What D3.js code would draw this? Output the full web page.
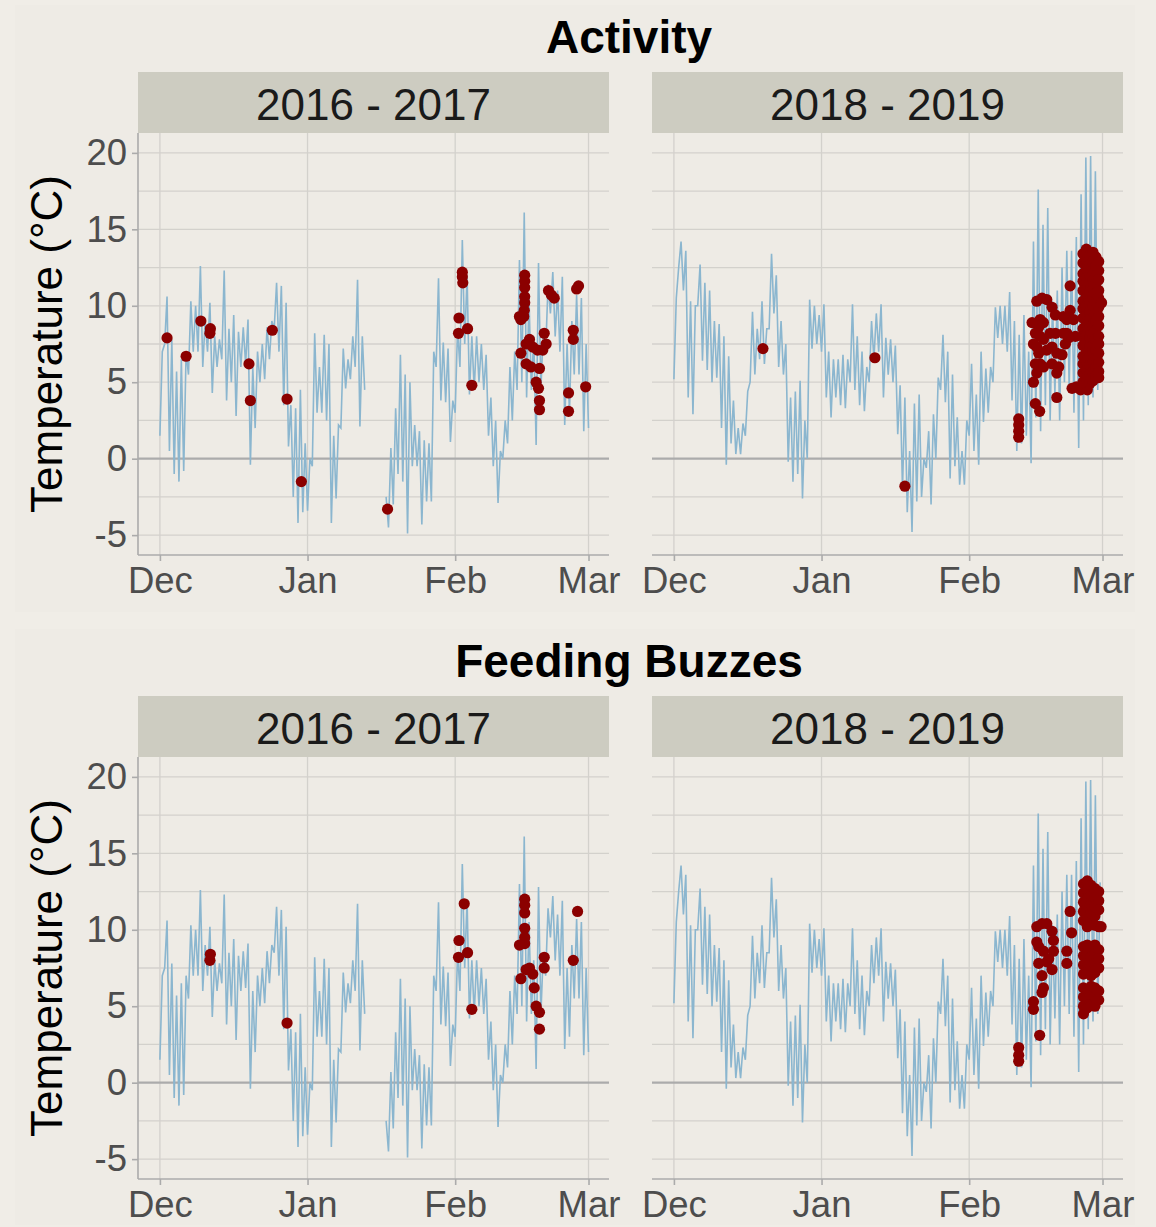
<!DOCTYPE html>
<html>
<head>
<meta charset="utf-8">
<script src="https://cdn.jsdelivr.net/npm/d3@7"></script>
<style>
  body { margin: 0; background: #F0EDE7; }
  svg { display: block; }
</style>
</head>
<body>
<svg id="chart" width="1156" height="1227"></svg>
<script>
// ---- data -------------------------------------------------------------
const seasons = ["2016 - 2017", "2018 - 2019"];
const sectionTitles = ["Activity", "Feeding Buzzes"];
const monthTicks = [0, 31, 62, 90];            // days since 1 Dec
const monthLabels = ["Dec", "Jan", "Feb", "Mar"];
const yTicks = [-5, 0, 5, 10, 15, 20];
const yMinor = [-2.5, 2.5, 7.5, 12.5, 17.5];

// Air temperature (°C), half-day steps starting 1 Dec (night low, day high); null = no logger data
const temp1617 = [
  1.5, 7.0,  7.5, 10.6,  0.5, 7.8,  -1.0, 5.7,  -1.5, 6.5,  -0.8, 7.0,  5.5, 10.3,  7.0, 10.0,
  7.0, 12.6,  6.0, 9.0,  7.0, 10.2,  4.3, 8.0,  6.0, 7.8,  6.5, 12.3,  3.8, 8.5,  5.0, 9.4,
  2.8, 8.3,  6.0, 8.6,  6.2, 9.1,  -0.4, 6.0,  2.0, 7.0,  5.0, 7.5,  5.2, 8.6,  6.5, 9.0,
  8.5, 11.5,  7.0, 11.3,  3.5, 10.2,  0.8, 3.5,  -2.5, 3.3,  -4.2, 4.5,  -3.5, 1.0,  -3.4, 0.0,
  -0.5, 8.2,  3.0, 6.0,  3.0, 8.1,  2.5, 7.5,  -4.2, 1.5,  -2.6, 2.2,  2.0, 7.2,  4.6, 6.5,
  5.2, 8.0,  6.0, 11.7,  2.1, 8.0,  4.5, null,  null, null,  null, null,  null, null,  null, -2.5,
  -4.5, 0.7,  -3.0, 3.3,  -1.0, 6.8,  -1.5, 5.5,  -4.9, 5.0,  -0.5, 2.2,  -0.5, 1.8,  -4.3, 1.2,
  -2.8, 1.0,  -2.8, 7.0,  6.0, 11.8,  3.8, 7.6,  3.7, 7.2,  1.1, 3.8,  3.0, 8.5,  6.0, 14.3,
  7.5, 12.0,  4.2, 8.0,  4.5, 8.0,  5.0, 7.5,  4.5, 6.8,  1.5, 4.0,  -0.5, 2.5,  -2.9, 0.5,
  0.0, 2.5,  1.0, 6.0,  2.5, 7.0,  4.5, 13.0,  5.0, 16.1,  4.0, 10.5,  4.5, 8.0,  0.9, 12.8,
  4.5, 8.5,  7.0, 11.4,  9.5, 12.2,  8.0, 11.0,  7.0, 11.9,  2.2, 7.5,  3.0, 9.0,  5.5, 10.7,
  5.5, 10.5,  1.8, 7.5,  2.0
];
const temp1819 = [
  5.2, 10.5,  12.5, 14.2,  11.0, 13.6,  4.0, 10.3,  2.9, 10.0,  10.0, 12.7,  6.4, 11.5,  5.8, 11.0,
  5.0, 9.0,  5.3, 8.8,  2.0, 8.0,  -0.4, 6.7,  1.0, 3.8,  0.3, 2.0,  0.3, 2.3,  1.5, 4.4,
  5.0, 9.6,  5.5, 8.5,  6.5, 10.3,  6.2, 8.5,  8.5, 13.4,  9.5, 12.0,  6.0, 9.0,  5.5, 7.5,
  -0.2, 4.0,  -1.5, 4.4,  -1.0, 5.1,  -2.6, 2.5,  0.0, 10.4,  7.2, 10.0,  7.5, 9.4,  7.0, 10.1,
  4.0, 7.0,  2.7, 6.5,  4.0, 6.5,  3.5, 6.8,  3.3, 6.5,  5.0, 10.1,  4.5, 8.0,  3.5, 7.0,
  3.1, 6.0,  5.0, 9.0,  6.5, 9.5,  7.0, 10.1,  4.0, 7.9,  5.5, 7.8,  5.0, 7.4,  1.6, 4.8,
  -2.0, 4.0,  -3.5, 0.5,  -4.8, 3.6,  -2.8, 4.2,  -2.5, 0.0,  -0.6, 1.8,  -3.0, 2.9,  0.0, 5.3,
  4.5, 8.1,  3.7, 7.0,  -1.3, 5.5,  -0.5, 2.7,  -1.7, 0.5,  -1.7, 2.5,  1.5, 6.2,  0.5, 4.2,
  -0.4, 7.0,  2.4, 5.9,  3.0, 6.0,  5.0, 9.9,  7.9, 10.0,  7.5, 10.0,  7.0, 10.9,  3.8, 9.0,
  0.5, 8.1,  1.0, 9.4,  1.5, 7.0,  -0.3, 14.2,  2.7, 17.6,  1.8, 15.3,  3.5, 16.4,  2.5, 10.3,
  4.2, 11.0,  2.5, 12.5,  5.0, 13.6,  4.5, 13.6,  3.0, 14.5,  0.7, 17.3,  2.5, 19.7,  3.5, 19.8,
  4.0, 18.8,  4.5, 13.1
];

// Detected bat passes: [day since 1 Dec, temperature °C]
const activity1617 = [
  [1.5, 7.9], [5.5, 6.7], [8.6, 9.0], [10.5, 8.2], [10.6, 8.5], [18.7, 6.2], [19.0, 3.8],
  [23.6, 8.4], [26.7, 3.9], [29.7, -1.5], [47.8, -3.3],
  [63.5, 12.2], [63.5, 11.9], [63.6, 11.5], [62.8, 9.2], [62.7, 8.2], [64.6, 8.5], [65.5, 4.8],
  [76.6, 12.0], [76.6, 11.6], [76.6, 11.2], [76.6, 10.6], [76.6, 10.2], [76.5, 9.7], [76.4, 9.3],
  [75.8, 9.1], [75.5, 9.3],
  [75.8, 6.9], [76.9, 7.5], [78.3, 7.3], [79.3, 7.1], [80.7, 8.2], [81.1, 7.5], [80.4, 7.1],
  [77.9, 6.0], [79.7, 5.9], [76.9, 6.2], [77.6, 7.8],
  [79.0, 5.0], [79.5, 4.6], [79.7, 3.8], [79.7, 3.2],
  [81.6, 11.0], [82.2, 10.7], [82.8, 10.5],
  [86.8, 8.4], [86.8, 7.8], [87.5, 11.1], [87.9, 11.3],
  [85.8, 4.3], [85.8, 3.1], [89.4, 4.7]
];
const feeding1617 = [
  [10.5, 8.0], [10.6, 8.4], [26.7, 3.9],
  [63.9, 11.7], [62.8, 9.3], [62.7, 8.2], [64.6, 8.5], [65.5, 4.8],
  [76.6, 12.0], [76.6, 11.6], [76.6, 11.1], [76.6, 10.1], [76.6, 9.5], [76.6, 9.1], [75.5, 9.0],
  [75.8, 6.8], [76.9, 7.4], [78.3, 7.1], [77.6, 7.5], [78.6, 6.2], [80.7, 8.2], [80.7, 7.5],
  [79.0, 5.0], [79.7, 4.6], [79.7, 3.5],
  [86.8, 8.0], [87.7, 11.2]
];
const activity1819 = [
  [18.7, 7.2], [42.2, 6.6], [48.5, -1.8],
  [72.4, 2.6], [72.4, 2.2], [72.4, 1.8], [72.4, 1.4],
  [76.2, 10.3], [77.3, 10.5], [78.3, 10.4], [79.4, 9.9], [80.1, 9.4], [76.9, 9.1], [75.9, 8.2],
  [75.5, 7.5], [76.6, 6.9], [77.6, 7.8], [79.0, 8.2], [80.1, 8.2], [79.4, 7.3], [80.4, 6.9],
  [80.8, 6.0], [81.5, 6.8], [76.9, 6.2], [76.2, 5.6], [75.5, 5.0], [75.9, 3.6], [76.8, 3.1],
  [80.4, 4.0], [83.2, 11.3], [82.5, 9.1], [82.5, 8.2], [82.2, 7.5], [84.3, 8.0], [76.6, 8.6],
  [78.3, 7.1], [75.9, 6.2], [75.2, 8.9], [77.6, 8.9], [76.9, 8.0], [76.2, 7.3], [77.6, 6.0],
  [79.4, 6.2], [80.4, 5.6], [81.8, 9.3], [83.2, 9.7], [83.9, 9.1], [82.9, 7.9], [81.8, 8.2],
  [83.6, 4.6], [84.5, 4.7], [85.4, 4.5], [86.8, 4.5],
  [85.9, 13.4], [85.9, 12.8], [85.9, 12.1], [85.9, 11.6], [85.9, 11.0], [85.9, 10.3], [85.9, 9.8],
  [85.9, 9.2], [85.9, 8.5], [85.9, 8.0], [85.9, 7.4], [85.9, 6.7], [85.9, 6.2], [85.9, 5.6], [85.9, 5.0],
  [86.6, 13.7], [86.6, 13.0], [86.6, 12.4], [86.6, 11.8], [86.6, 11.1], [86.6, 10.6], [86.6, 10.0],
  [86.6, 9.4], [86.6, 8.8], [86.6, 8.1], [86.6, 7.6], [86.6, 7.0], [86.6, 6.4], [86.6, 5.8], [86.6, 5.2],
  [87.3, 13.3], [87.3, 12.7], [87.3, 12.0], [87.3, 11.5], [87.3, 10.9], [87.3, 10.3], [87.3, 9.6],
  [87.3, 9.1], [87.3, 8.5], [87.3, 7.9], [87.3, 7.3], [87.3, 6.6], [87.3, 6.1], [87.3, 5.5], [87.3, 4.9],
  [88.0, 13.5], [88.0, 12.9], [88.0, 12.3], [88.0, 11.6], [88.0, 11.1], [88.0, 10.5], [88.0, 9.9],
  [88.0, 9.2], [88.0, 8.7], [88.0, 8.1], [88.0, 7.4], [88.0, 6.9], [88.0, 6.3], [88.0, 5.7], [88.0, 5.1],
  [88.6, 13.2], [88.6, 12.6], [88.6, 11.9], [88.6, 11.4], [88.6, 10.8], [88.6, 10.2], [88.6, 9.5],
  [88.6, 9.0], [88.6, 8.4], [88.6, 7.8], [88.6, 7.1], [88.6, 6.6], [88.6, 6.0], [88.6, 5.4],
  [89.2, 12.9], [89.2, 12.3], [89.2, 11.7], [89.2, 11.0], [89.2, 10.5], [89.2, 9.9], [89.2, 9.3],
  [89.2, 8.7], [89.2, 8.0], [89.2, 7.5], [89.2, 6.9], [89.2, 6.3], [89.2, 5.7], [89.2, 5.3],
  [89.8, 10.2]
];
const feeding1819 = [
  [72.4, 2.3], [72.4, 1.8], [72.4, 1.4], [75.5, 5.3], [75.5, 4.8], [76.8, 3.1],
  [76.2, 10.2], [77.3, 10.4], [78.3, 10.4], [79.4, 9.9], [79.7, 9.3], [76.6, 8.9], [77.6, 8.6],
  [79.7, 8.6], [76.6, 7.8], [78.3, 7.9], [79.4, 7.4], [77.3, 7.0], [77.6, 6.2], [77.3, 5.9],
  [76.2, 9.2], [78.7, 8.1],
  [83.2, 11.2], [83.5, 9.8], [82.5, 8.6], [82.5, 7.8],
  [86.0, 13.0], [86.0, 12.4], [86.0, 11.8], [86.0, 11.2], [86.0, 10.6], [86.0, 8.9], [86.0, 8.3],
  [86.0, 7.7], [86.0, 7.1], [86.0, 6.2], [86.0, 5.6], [86.0, 5.0], [86.0, 4.5],
  [86.8, 13.2], [86.8, 12.6], [86.8, 12.0], [86.8, 11.4], [86.8, 10.8], [86.8, 10.2], [86.8, 9.0],
  [86.8, 8.4], [86.8, 7.8], [86.8, 7.2], [86.8, 6.1], [86.8, 5.5], [86.8, 4.9],
  [87.6, 12.9], [87.6, 12.3], [87.6, 11.7], [87.6, 11.1], [87.6, 10.5], [87.6, 8.8], [87.6, 8.2],
  [87.6, 7.6], [87.6, 7.0], [87.6, 6.3], [87.6, 5.7], [87.6, 5.1],
  [88.4, 12.7], [88.4, 12.1], [88.4, 11.5], [88.4, 10.9], [88.4, 10.3], [88.4, 9.0], [88.4, 8.4],
  [88.4, 7.8], [88.4, 7.2], [88.4, 6.2], [88.4, 5.6], [88.4, 5.0],
  [89.2, 12.5], [89.2, 11.9], [89.2, 11.3], [89.2, 10.2], [89.2, 8.7], [89.2, 8.1], [89.2, 7.5],
  [89.2, 6.0], [89.2, 5.4], [89.7, 10.2]
];

// ---- layout -----------------------------------------------------------
const font = "'Liberation Sans', Arial, sans-serif";
const svg = d3.select("#chart");
const panelW = 471, panelH = 422, stripH = 61;
const panelX = [138, 652];
const sectionOffset = [0, 624];
const temps = [temp1617, temp1819];
const pointSets = [[activity1617, activity1819], [feeding1617, feeding1819]];

svg.append("rect").attr("width", 1156).attr("height", 1227).attr("fill", "#F0EDE7");

sectionTitles.forEach((title, s) => {
  const oy = sectionOffset[s];
  const panelTop = 133 + oy;

  svg.append("rect")
    .attr("x", 15).attr("y", 5 + oy).attr("width", 1120).attr("height", s === 0 ? 607 : 596)
    .attr("fill", "#EEEBE5");

  svg.append("text")
    .attr("x", 629).attr("y", 53 + oy)
    .attr("text-anchor", "middle")
    .attr("font-family", font).attr("font-weight", "bold").attr("font-size", 46)
    .attr("fill", "#000").text(title);

  const y = d3.scaleLinear().domain([-6.3, 21.3]).range([panelTop + panelH, panelTop]);

  // y-axis title
  svg.append("text")
    .attr("transform", `translate(61.5,${panelTop + panelH / 2}) rotate(-90)`)
    .attr("text-anchor", "middle")
    .attr("font-family", font).attr("font-size", 44).attr("fill", "#000")
    .text("Temperature (°C)");

  seasons.forEach((season, p) => {
    const x0 = panelX[p];
    const x = d3.scaleLinear().domain([-4.6, 94.3]).range([x0, x0 + panelW]);
    const g = svg.append("g");

    // strip
    g.append("rect").attr("x", x0).attr("y", panelTop - stripH)
      .attr("width", panelW).attr("height", stripH).attr("fill", "#CDCCC1");
    g.append("text").attr("x", x0 + panelW / 2).attr("y", panelTop - 13)
      .attr("text-anchor", "middle")
      .attr("font-family", font).attr("font-size", 44).attr("fill", "#1A1A1A")
      .text(season);

    // grid
    const grid = g.append("g").attr("stroke", "#D3D1CC").attr("stroke-width", 1.3);
    yMinor.concat(yTicks.filter(v => v !== 0)).forEach(v => {
      grid.append("line").attr("x1", x0).attr("x2", x0 + panelW)
        .attr("y1", y(v)).attr("y2", y(v));
    });
    monthTicks.forEach(v => {
      grid.append("line").attr("x1", x(v)).attr("x2", x(v))
        .attr("y1", panelTop).attr("y2", panelTop + panelH);
    });
    g.append("line").attr("x1", x0).attr("x2", x0 + panelW)
      .attr("y1", y(0)).attr("y2", y(0))
      .attr("stroke", "#ABABAB").attr("stroke-width", 2.2);

    // temperature trace
    const series = temps[p].map((t, i) => ({ day: i / 2, t }));
    const line = d3.line()
      .defined(d => d.t !== null)
      .x(d => x(d.day)).y(d => y(d.t));
    g.append("path").datum(series)
      .attr("d", line)
      .attr("fill", "none").attr("stroke", "#8BB6CF")
      .attr("stroke-width", 1.6).attr("stroke-linejoin", "miter");

    // detections
    g.append("g").selectAll("circle")
      .data(pointSets[s][p])
      .join("circle")
      .attr("cx", d => x(d[0])).attr("cy", d => y(d[1]))
      .attr("r", 5.6).attr("fill", "#8B0000");

    // x axis
    const xAxis = d3.axisBottom(x).tickValues(monthTicks)
      .tickFormat((d, i) => monthLabels[i]).tickSize(6).tickPadding(6);
    const gx = g.append("g").attr("transform", `translate(0,${panelTop + panelH})`).call(xAxis);
    gx.select(".domain").attr("d", `M${x0},0H${x0 + panelW}`)
      .attr("stroke", "#ABABAB").attr("stroke-width", 1.6);
    gx.selectAll(".tick line").attr("stroke", "#ABABAB").attr("stroke-width", 1.6);
    gx.selectAll(".tick text").attr("font-family", font).attr("font-size", 36.5).attr("fill", "#4D4D4D");

    // y axis on the left column only
    if (p === 0) {
      const yAxis = d3.axisLeft(y).tickValues(yTicks).tickFormat(d => String(d))
        .tickSize(6).tickPadding(5);
      const gy = g.append("g").attr("transform", `translate(${x0},0)`).call(yAxis);
      gy.select(".domain").attr("d", `M0,${panelTop}V${panelTop + panelH}`)
        .attr("stroke", "#ABABAB").attr("stroke-width", 1.6);
      gy.selectAll(".tick line").attr("stroke", "#ABABAB").attr("stroke-width", 1.6);
      gy.selectAll(".tick text").attr("font-family", font).attr("font-size", 36.5).attr("fill", "#4D4D4D");
    }
  });
});
</script>
</body>
</html>
